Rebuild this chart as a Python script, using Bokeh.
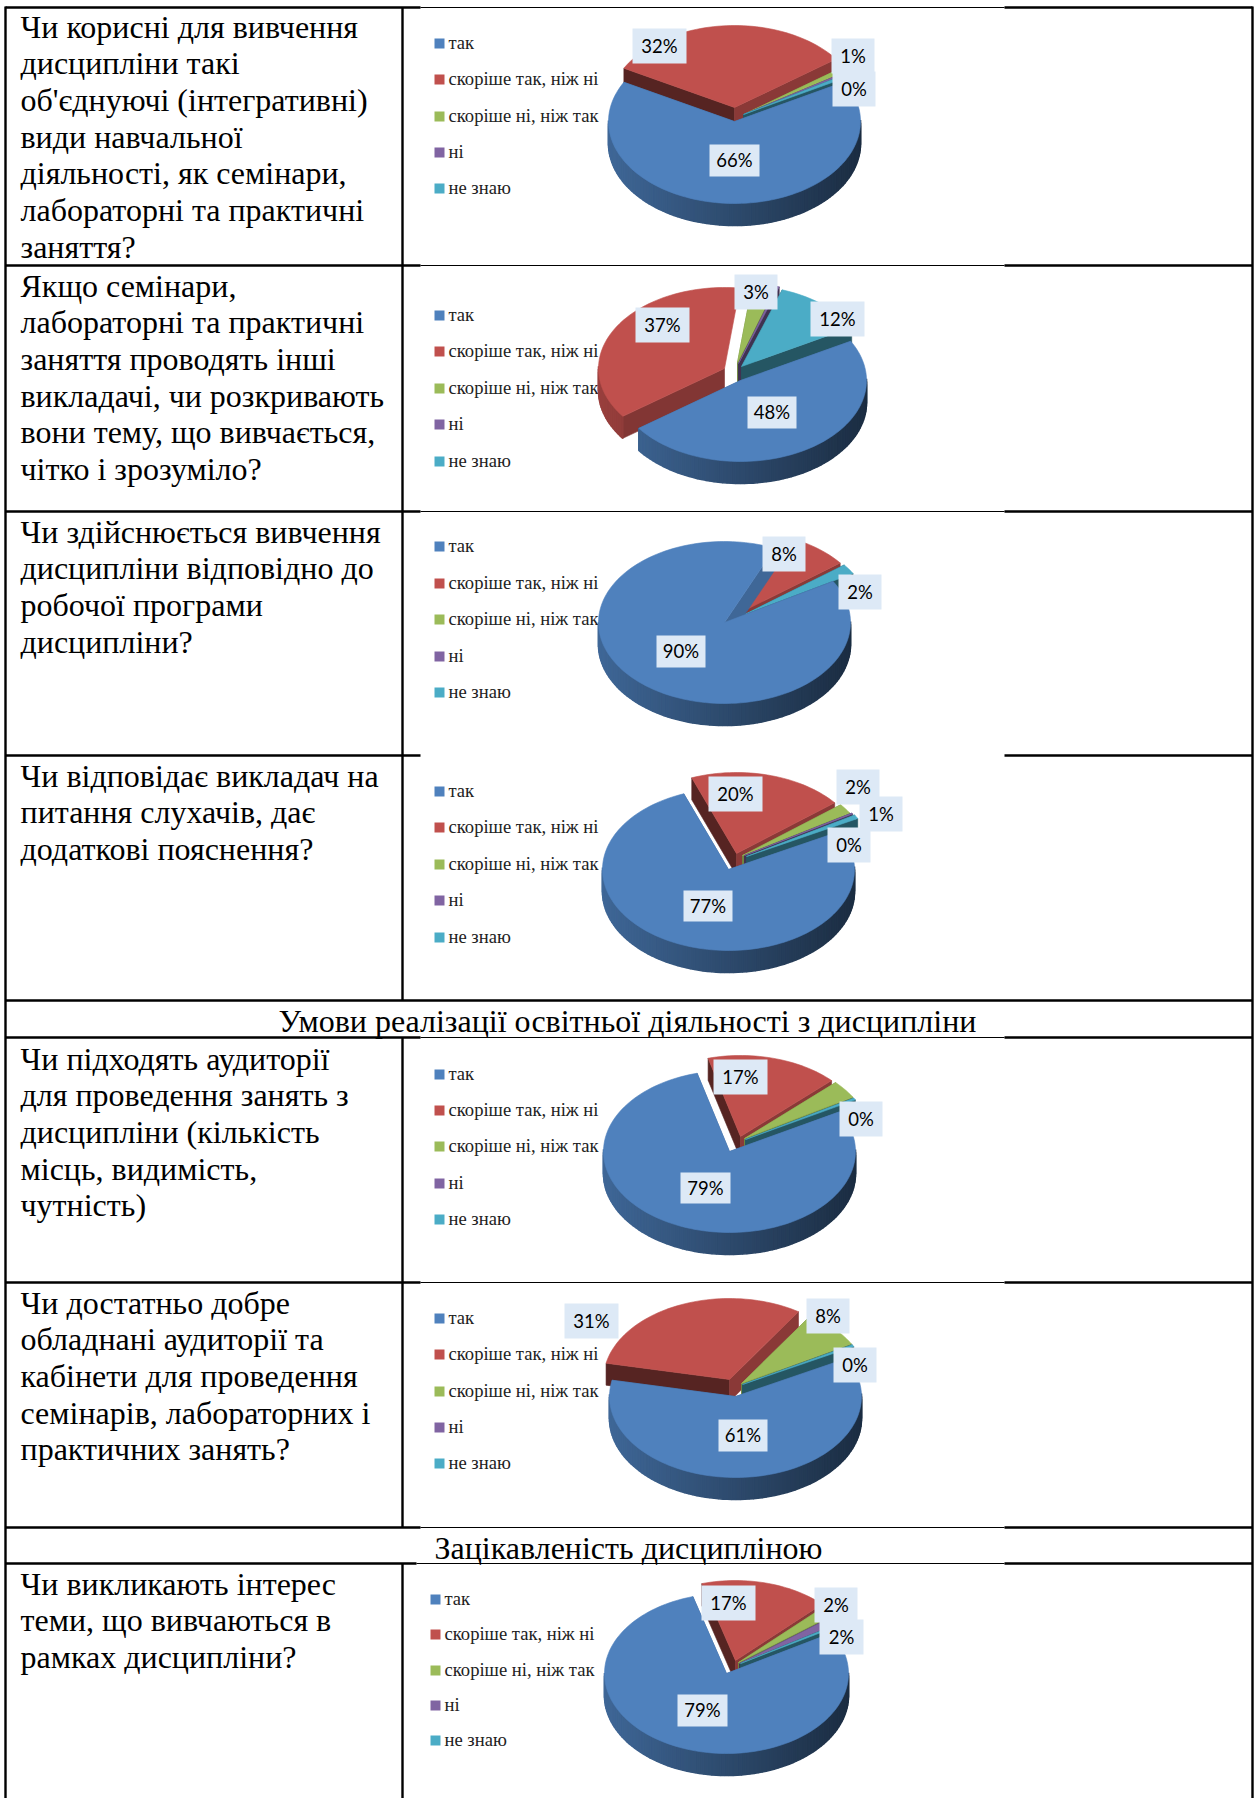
import numpy as np
from bokeh.plotting import figure
from bokeh.models import Range1d
from bokeh.core.properties import value
from bokeh.embed import file_html
from bokeh.resources import INLINE

# ---- data ----
categories = ["так", "скоріше так, ніж ні", "скоріше ні, ніж так", "ні", "не знаю"]
values_1 = [66, 32, 1, 0.4, 0.6]
values_2 = [48, 37, 3, 0.3, 11.7]
values_3 = [90, 8, 0, 0, 2]
values_4 = [77, 20, 2, 0.2, 0.8]
values_5 = [79, 17, 3.6, 0, 0.4]
values_6 = [61, 31, 7.6, 0, 0.4]
values_7 = [79, 17, 2, 1.6, 0.4]
labels_1 = ["32%", "1%", "0%", "66%"]
labels_2 = ["37%", "3%", "12%", "48%"]
labels_3 = ["8%", "2%", "90%"]
labels_4 = ["20%", "2%", "1%", "0%", "77%"]
labels_5 = ["17%", "0%", "79%"]
labels_6 = ["31%", "8%", "0%", "61%"]
labels_7 = ["17%", "2%", "2%", "79%"]
questions = [
    ["Чи корисні для вивчення", "дисципліни такі", "об'єднуючі (інтегративні)", "види навчальної",
     "діяльності, як семінари,", "лабораторні та практичні", "заняття?"],
    ["Якщо семінари,", "лабораторні та практичні", "заняття проводять інші", "викладачі, чи розкривають",
     "вони тему, що вивчається,", "чітко і зрозуміло?"],
    ["Чи здійснюється вивчення", "дисципліни відповідно до", "робочої програми", "дисципліни?"],
    ["Чи відповідає викладач на", "питання слухачів, дає", "додаткові пояснення?"],
    ["Чи підходять аудиторії", "для проведення занять з", "дисципліни (кількість", "місць, видимість,", "чутність)"],
    ["Чи достатньо добре", "обладнані аудиторії та", "кабінети для проведення", "семінарів, лабораторних і",
     "практичних занять?"],
    ["Чи викликають інтерес", "теми, що вивчаються в", "рамках дисципліни?"],
]
headers = ["Умови реалізації освітньої діяльності з дисципліни", "Зацікавленість дисципліною"]

# ---- layout and style ----
W, H = 1256, 1798
colors = ["#4f81bd", "#c0504d", "#9bbb59", "#8064a2", "#4bacc6"]
DEPTH = 22
Q_SIZE = 32
L_SIZE = 18.6
first_base = [36, 295, 541, 785, 1068, 1312, 1593]
header_pos = [(628, 1030), (629, 1557)]
draw_order = [1, 2, 3, 4, 0]
pies = [
    dict(v=values_1, c=(735, 121), a0=61, r=(126, 82),
         off=[(0, 0), (0, -14), (9, -7), (9, -7), (9, -7)], skip_end=False,
         lab=labels_1, boxes=[(633, 687, 28, 63), (832, 875, 38, 73), (833, 876, 71, 106), (710, 760, 144, 176)],
         leg=[43, 79, 116, 152, 188], lx=435),
    dict(v=values_2, c=(741, 380), a0=61, r=(126, 81),
         off=[(0, 0), (-16, -12), (-3, -18), (-2, -17), (1, -14)], skip_end=True,
         lab=labels_2, boxes=[(636, 690, 307, 342), (735, 778, 274, 309), (811, 865, 301, 336), (748, 797, 396, 428)],
         leg=[315, 351, 388, 424, 461], lx=435),
    dict(v=values_3, c=(725, 622), a0=59.5, r=(126, 81),
         off=[(0, 0), (16, -10), (18, -9), (18, -9), (20, -8)], skip_end=False,
         lab=labels_3, boxes=[(763, 806, 536, 571), (839, 882, 574, 609), (657, 706, 635, 667)],
         leg=[546, 583, 619, 656, 692], lx=435),
    dict(v=values_4, c=(729, 869), a0=62, r=(126, 81),
         off=[(0, 0), (8, -16), (14, -14), (16, -14), (18, -13)], skip_end=False,
         lab=labels_4, boxes=[(709, 763, 776, 811), (837, 880, 769, 804), (860, 903, 796, 831), (828, 871, 827, 862),
                              (684, 733, 890, 921)],
         leg=[791, 827, 864, 900, 937], lx=435),
    dict(v=values_5, c=(730, 1151), a0=60.7, r=(126, 81),
         off=[(0, 0), (11, -15), (15, -13), (15, -13), (16, -12)], skip_end=False,
         lab=labels_5, boxes=[(714, 768, 1059, 1094), (840, 883, 1101, 1136), (681, 731, 1172, 1203)],
         leg=[1074, 1110, 1146, 1183, 1219], lx=435),
    dict(v=values_6, c=(736, 1396), a0=62, r=(126, 81),
         off=[(0, 0), (-6, -17), (6, -13), (6, -13), (7, -12)], skip_end=False,
         lab=labels_6, boxes=[(565, 619, 1303, 1338), (807, 850, 1298, 1333), (834, 877, 1347, 1382), (719, 768, 1419, 1451)],
         leg=[1318, 1354, 1391, 1427, 1463], lx=435),
    dict(v=values_7, c=(727, 1673), a0=59.6, r=(122, 80),
         off=[(0, 0), (9, -13), (12, -11), (13, -10), (14, -10)], skip_end=False,
         lab=labels_7, boxes=[(702, 756, 1585, 1620), (815, 858, 1587, 1622), (820, 864, 1619, 1654), (678, 728, 1694, 1726)],
         leg=[1599, 1634, 1670, 1705, 1740], lx=431),
]

p = figure(width=W, height=H, x_range=Range1d(1, W + 1), y_range=Range1d(H, 0),
           toolbar_location=None, output_backend="svg", min_border=0)
p.axis.visible = False
p.grid.visible = False
p.outline_line_color = None
p.background_fill_color = "white"
p.border_fill_color = "white"


def shade(hexcol, f):
    r, g, b = int(hexcol[1:3], 16), int(hexcol[3:5], 16), int(hexcol[5:7], 16)
    return "#%02x%02x%02x" % (int(r * f), int(g * f), int(b * f))


def wall_factor(i, th):
    th = th % 360
    if i == 0:
        return 0.8
    if i >= 3:
        return 0.5
    if th < 100:
        return 0.72
    if th < 270:
        return 0.68
    return 0.45


# ---- table rules ----
rules_thick = []
rules_thin = []
for y in [7, 265, 511, 755, 1037, 1282, 1527, 1563]:
    end_left = 421 if y != 1563 else 417
    rules_thick.append(([6, end_left], [y, y]))
    rules_thick.append(([1005, 1253], [y, y]))
    if y != 755:
        rules_thin.append(([end_left, 1005], [y, y]))
rules_thick.append(([6, 1253], [1000, 1000]))
rules_thick.append(([6, 6], [6, H]))
rules_thick.append(([1253, 1253], [6, H]))
rules_thick.append(([403, 403], [7, 1000]))
rules_thick.append(([403, 403], [1037, 1527]))
rules_thick.append(([403, 403], [1563, H]))
p.multi_line([r[0] for r in rules_thick], [r[1] for r in rules_thick], line_color="black", line_width=2.4)
p.multi_line([r[0] for r in rules_thin], [r[1] for r in rules_thin], line_color="black", line_width=1.2)

# ---- question texts ----
LINE = 36.67
Q_FIX = 10
L_FIX = 6
qx, qy, qt = [], [], []
for lines, b in zip(questions, first_base):
    for k, s in enumerate(lines):
        qx.append(21)
        qy.append(b + k * LINE - Q_FIX)
        qt.append(s)
p.text(qx, qy, qt, text_font=value("Liberation Serif"), text_font_size=f"{Q_SIZE}px", text_color="black",
       text_baseline="alphabetic", text_align="left")
p.text([h[0] for h in header_pos], [h[1] - Q_FIX for h in header_pos], headers,
       text_font=value("Liberation Serif"), text_font_size=f"{Q_SIZE}px", text_color="black",
       text_baseline="alphabetic", text_align="center")

# ---- pies ----
for pie in pies:
    # legend
    lx = pie["lx"]
    p.quad(left=[lx] * 5, right=[lx + 10] * 5, top=[y - 5 for y in pie["leg"]], bottom=[y + 5 for y in pie["leg"]],
           fill_color=colors, line_color=None)
    p.text([lx + 14] * 5, [y + 5 - L_FIX for y in pie["leg"]], categories,
           text_font=value("Liberation Serif"),
           text_font_size=f"{L_SIZE}px", text_color="#222222", text_baseline="alphabetic", text_align="left")

    vals = np.array(pie["v"], float)
    sweeps = vals / vals.sum() * 360
    starts = pie["a0"] + np.concatenate([[0], np.cumsum(sweeps)[:-1]])
    cx, cy = pie["c"]
    rx, ry = pie["r"]
    xs, ys, fills, widths = [], [], [], []

    def add(px, py, col, lw=0.6):
        xs.append(list(px))
        ys.append(list(py))
        fills.append(col)
        widths.append(lw)

    for i in draw_order:
        if vals[i] <= 0:
            continue
        ox, oy = pie["off"][i]
        ax, ay = cx + ox, cy + oy
        th = np.radians(np.linspace(starts[i], starts[i] + sweeps[i], max(3, int(sweeps[i] / 2) + 2)))
        rimx = ax + rx * np.sin(th)
        rimy = ay - ry * np.cos(th)
        # radial walls
        for j, t in ((0, starts[i]), (-1, starts[i] + sweeps[i])):
            if j == -1 and i == 1 and pie["skip_end"]:
                continue
            add([ax, rimx[j], rimx[j], ax], [ay, rimy[j], rimy[j] + DEPTH, ay + DEPTH],
                shade(colors[i], wall_factor(i, t)))
        # outer wall, shaded along x
        for a in range(len(th) - 1):
            mid = 0.5 * (th[a] + th[a + 1])
            if np.cos(mid) < 0.02:
                f = 0.8 - 0.45 * (np.sin(mid) + 1) / 2
                add([rimx[a], rimx[a + 1], rimx[a + 1], rimx[a]],
                    [rimy[a], rimy[a + 1], rimy[a + 1] + DEPTH, rimy[a] + DEPTH], shade(colors[i], f), 1.6)
        # top face
        add([ax] + list(rimx), [ay] + list(rimy), colors[i])
    p.patches(xs, ys, fill_color=fills, line_color=fills, line_width=widths)

for pie in pies:
    b = pie["boxes"]
    p.quad(left=[q[0] for q in b], right=[q[1] for q in b], top=[q[2] for q in b], bottom=[q[3] for q in b],
           fill_color="#dde9f6", line_color=None)
    p.text([(q[0] + q[1]) / 2 for q in b], [(q[2] + q[3]) / 2 - 0.5 for q in b], pie["lab"],
           text_font=value("Lato"), text_font_size="18.5px", text_color="black",
           text_align="center", text_baseline="middle")

open("out.html", "w").write(file_html(p, INLINE))
